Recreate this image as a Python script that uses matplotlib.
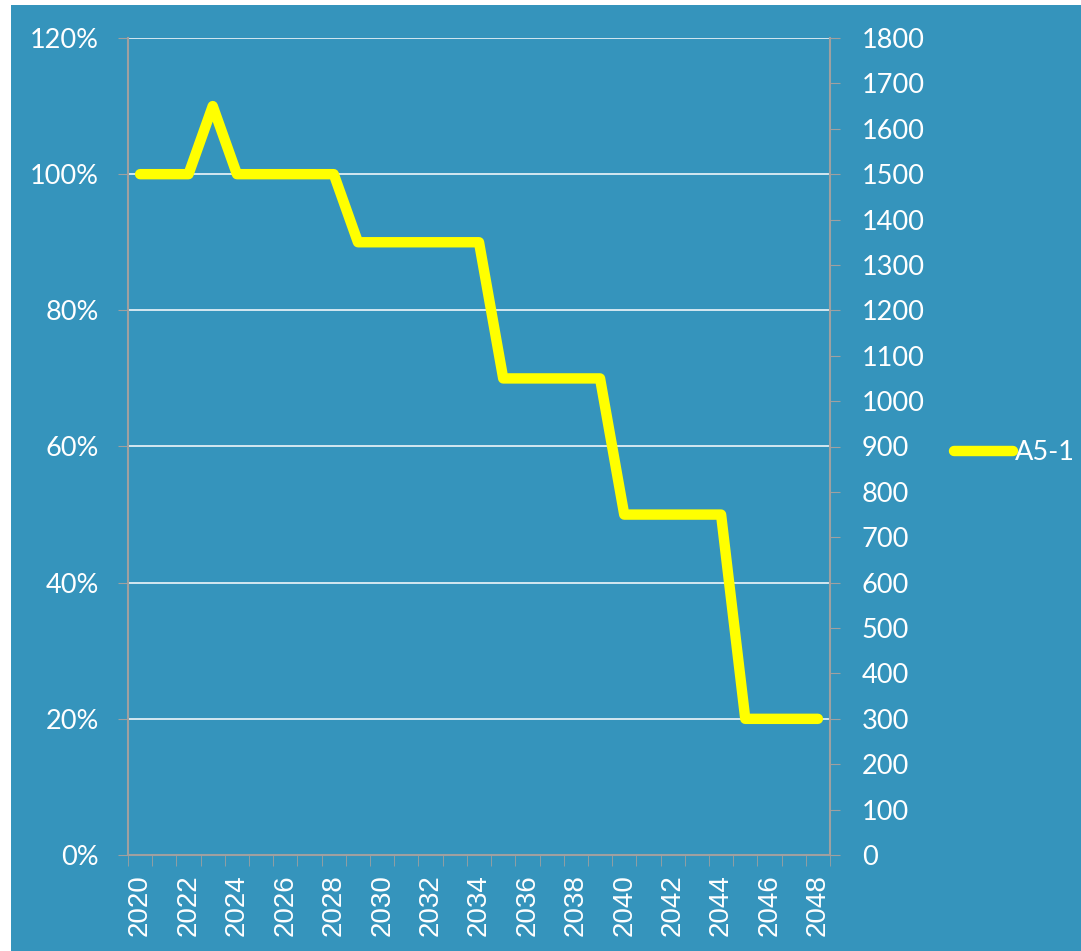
import matplotlib.pyplot as plt
from matplotlib.patches import Rectangle
from matplotlib.ticker import FuncFormatter, MultipleLocator, FixedLocator

years = list(range(2020, 2049))
a5_1 = [1.00, 1.00, 1.00, 1.10, 1.00, 1.00, 1.00, 1.00, 1.00,
        0.90, 0.90, 0.90, 0.90, 0.90, 0.90,
        0.70, 0.70, 0.70, 0.70, 0.70,
        0.50, 0.50, 0.50, 0.50, 0.50,
        0.20, 0.20, 0.20, 0.20]
series_name = 'A5-1'

bg = '#3594bc'
yellow = '#ffff00'
spine_gray = '#a0a0a0'

fig = plt.figure(figsize=(10.81, 9.51), dpi=100, facecolor='white')
# blue panel (thin white strip on top and left like the original)
fig.patches.append(Rectangle((11 / 1081, 0), 1 - 11 / 1081, 1 - 5 / 951,
                             transform=fig.transFigure, facecolor=bg,
                             edgecolor='none', zorder=-10))

ax = fig.add_axes([128 / 1081, 1 - 855 / 951, (830 - 128) / 1081, (855 - 38) / 951])
ax.set_facecolor(bg)

x = list(range(len(years)))
ax.plot(x, a5_1, color=yellow, lw=7.5, solid_capstyle='round',
        solid_joinstyle='round', label=series_name, zorder=3)

ax.set_xlim(-0.5, len(years) - 0.5)
ax.set_ylim(0, 1.2)
ax.yaxis.set_major_locator(MultipleLocator(0.2))
ax.yaxis.set_major_formatter(FuncFormatter(lambda v, p: f'{v * 100:.0f}%'))
ax.grid(axis='y', color='white', lw=1.1)
ax.set_axisbelow(True)

ax.set_xticks(x[::2])
ax.set_xticklabels([str(y) for y in years[::2]], rotation=90,
                   fontfamily='Liberation Sans', fontsize=20, color='white')
ax.xaxis.set_minor_locator(FixedLocator([i - 0.5 for i in range(len(years) + 1)]))
ax.tick_params(axis='x', which='major', length=0, pad=14)
ax.tick_params(axis='x', which='minor', length=8, color=spine_gray, direction='out')
ax.tick_params(axis='y', length=7, color=spine_gray, pad=14, labelcolor='white')
for lab in ax.get_yticklabels():
    lab.set_fontfamily('Lato')
    lab.set_fontsize(19.5)

for side in ['left', 'bottom']:
    ax.spines[side].set_color(spine_gray)
    ax.spines[side].set_linewidth(1.5)
ax.spines['top'].set_visible(False)
ax.spines['right'].set_visible(False)

ax2 = ax.twinx()
ax2.set_ylim(0, 1800)
ax2.yaxis.set_major_locator(MultipleLocator(100))
ax2.tick_params(axis='y', length=7, color=spine_gray, pad=16, labelcolor='white')
for lab in ax2.get_yticklabels():
    lab.set_fontfamily('Lato')
    lab.set_fontsize(19.5)
ax2.spines['right'].set_color(spine_gray)
ax2.spines['right'].set_linewidth(1.5)
for side in ['left', 'top', 'bottom']:
    ax2.spines[side].set_visible(False)

handles, labels = ax.get_legend_handles_labels()
leg = fig.legend(handles, labels, loc='center left',
                 bbox_to_anchor=(940 / 1081, 1 - 453 / 951),
                 frameon=False, borderpad=0, handlelength=2.2, handletextpad=0.05,
                 prop={'family': 'Lato', 'size': 19.5})
for t in leg.get_texts():
    t.set_color('white')

fig.savefig('out.png', dpi=100, facecolor=fig.get_facecolor())
